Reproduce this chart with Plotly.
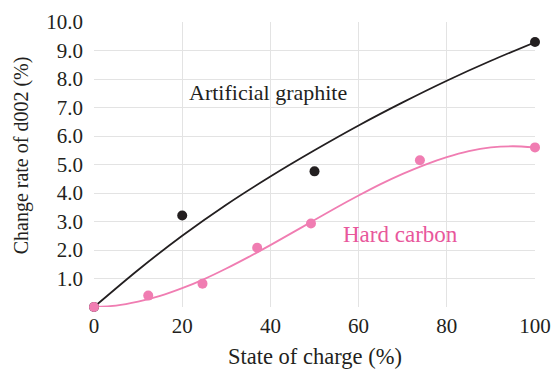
import plotly.graph_objects as go

# Measured data points
graphite_x = [0, 20, 50, 100]
graphite_y = [0.0, 3.21, 4.76, 9.3]
hard_x = [0, 12.3, 24.6, 37.0, 49.2, 73.9, 100]
hard_y = [0.0, 0.40, 0.82, 2.08, 2.93, 5.15, 5.60]

# Trend curves
graphite_curve_x = [0, 10, 20, 30, 40, 50, 60, 70, 80, 90, 100]
graphite_curve_y = [0.0, 1.3, 2.5, 3.59, 4.58, 5.5, 6.37, 7.18, 7.94, 8.64, 9.29]
hard_curve_x = [0, 5, 10, 15, 20, 25, 30, 35, 40, 45, 50, 55, 60, 65, 70, 75, 80, 85, 90, 95, 100]
hard_curve_y = [0.0, 0.05, 0.19, 0.39, 0.66, 0.98, 1.35, 1.75, 2.17, 2.61, 3.05, 3.49,
                3.91, 4.31, 4.67, 4.99, 5.26, 5.47, 5.6, 5.64, 5.6]

x_ticks = [0, 20, 40, 60, 80, 100]
y_ticks = [0, 1, 2, 3, 4, 5, 6, 7, 8, 9, 10]
y_ticktext = [""] + [f"{v:.1f}" for v in y_ticks[1:]]

BLACK = "#231f20"
PINK = "#f07db2"
PINK_TEXT = "#e8579b"
FONT = "Liberation Serif"

fig = go.Figure()
fig.add_trace(go.Scatter(x=graphite_curve_x, y=graphite_curve_y, mode="lines",
                         line=dict(color=BLACK, width=1.8, shape="spline", smoothing=0.8),
                         hoverinfo="skip", cliponaxis=False))
fig.add_trace(go.Scatter(x=hard_curve_x, y=hard_curve_y, mode="lines",
                         line=dict(color=PINK, width=1.8, shape="spline", smoothing=0.8),
                         hoverinfo="skip", cliponaxis=False))
fig.add_trace(go.Scatter(x=graphite_x, y=graphite_y, mode="markers",
                         marker=dict(color=BLACK, size=10), cliponaxis=False))
fig.add_trace(go.Scatter(x=hard_x, y=hard_y, mode="markers",
                         marker=dict(color=PINK, size=10), cliponaxis=False))

fig.add_annotation(x=39.5, y=7.53, text="Artificial graphite", showarrow=False,
                   font=dict(family=FONT, size=22, color=BLACK))
fig.add_annotation(x=69.5, y=2.53, text="Hard carbon", showarrow=False,
                   font=dict(family=FONT, size=23, color=PINK_TEXT))

# axis titles
fig.add_annotation(xref="paper", yref="paper", x=0.5, y=-0.175, text="State of charge (%)",
                   showarrow=False, xanchor="center", yanchor="middle",
                   font=dict(family=FONT, size=22.5, color=BLACK))
fig.add_annotation(xref="paper", yref="paper", x=-0.164, y=0.531, text="Change rate of d002 (%)",
                   showarrow=False, xanchor="center", yanchor="middle", textangle=-90,
                   font=dict(family=FONT, size=20, color=BLACK))

fig.update_layout(
    width=553, height=369,
    margin=dict(l=94, r=18, t=22, b=62, autoexpand=False),
    paper_bgcolor="white", plot_bgcolor="white",
    showlegend=False,
    font=dict(family=FONT, size=21, color=BLACK),
)
fig.update_xaxes(range=[0, 100], tickvals=x_ticks, ticktext=[str(v) for v in x_ticks],
                 showgrid=True, gridcolor="#e3e3e3", gridwidth=1, zeroline=False,
                 showline=False, ticks="", ticklen=0, automargin=False,
                 ticklabelstandoff=4,
                 tickfont=dict(family=FONT, size=21, color=BLACK))
fig.update_yaxes(range=[0, 10], tickvals=y_ticks, ticktext=y_ticktext,
                 showgrid=True, gridcolor="#e3e3e3", gridwidth=1, zeroline=False,
                 showline=False, ticks="", ticklen=0, automargin=False,
                 ticklabelstandoff=10,
                 tickfont=dict(family=FONT, size=21, color=BLACK))

fig.write_html("out.html")
